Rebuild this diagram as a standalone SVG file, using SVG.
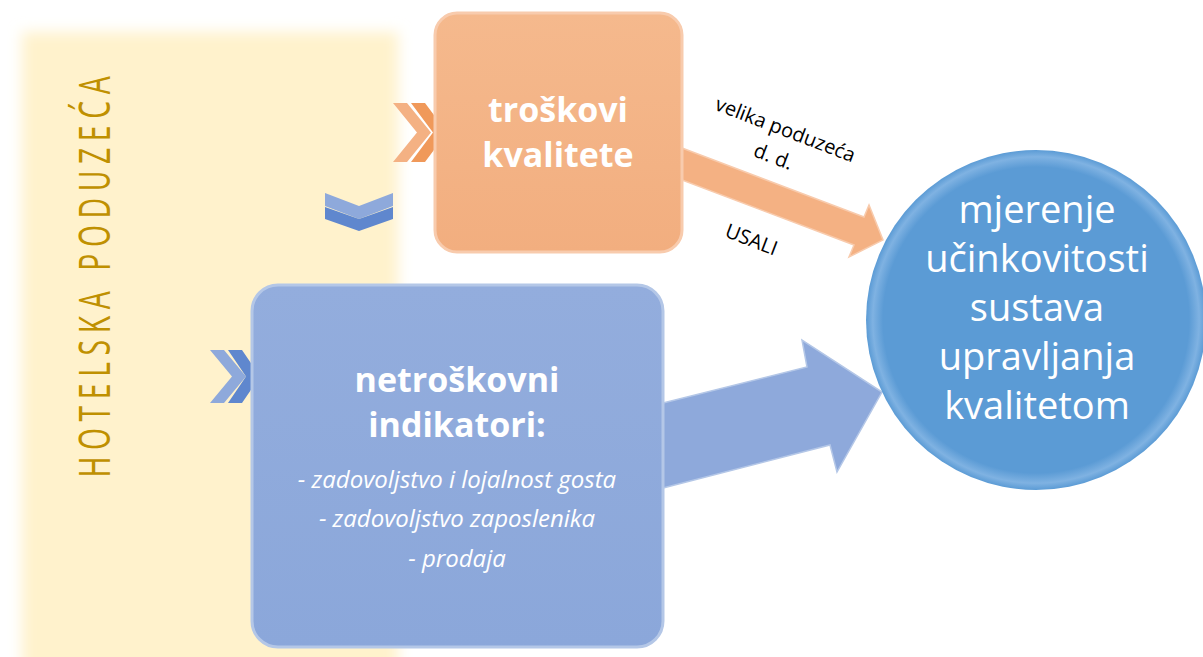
<svg xmlns="http://www.w3.org/2000/svg" width="1203" height="657" viewBox="0 0 1203 657">
<defs>
<filter id="blur" x="-10%" y="-10%" width="120%" height="120%"><feGaussianBlur stdDeviation="7"/></filter>
<linearGradient id="gO" x1="0" y1="0" x2="0" y2="1"><stop offset="0" stop-color="#F5B98D"/><stop offset="1" stop-color="#F2AE7F"/></linearGradient>
<linearGradient id="gB" x1="0" y1="0" x2="0" y2="1"><stop offset="0" stop-color="#93ADDD"/><stop offset="1" stop-color="#8BA7DA"/></linearGradient>
<radialGradient id="gC" cx="0.5" cy="0.5" r="0.5"><stop offset="0.9" stop-color="#5B9BD5"/><stop offset="0.96" stop-color="#7FB2E2"/><stop offset="1" stop-color="#5B9BD5"/></radialGradient>
<style>
.bold{font-family:"Open Sans","Noto Sans",sans-serif;font-weight:700;fill:#fff;text-anchor:middle}
.reg{font-family:"Open Sans","Noto Sans",sans-serif;fill:#fff;text-anchor:middle}
.ital{font-family:"Open Sans","Noto Sans",sans-serif;font-style:italic;fill:#fff;text-anchor:middle;font-size:24px}
.lbl{font-family:"Open Sans","Noto Sans",sans-serif;fill:#000;text-anchor:middle;font-size:20px}
.chL{fill:#8EA9DB}.chD{fill:#5F87CE}
.chLo{fill:#F4B183}.chDo{fill:#F0995A}
</style>
</defs>
<rect width="1203" height="657" fill="#fff"/>
<g id="background">
<rect x="22" y="32" width="376" height="660" fill="#FFF2CC" filter="url(#blur)"/>
<text transform="translate(110,277) rotate(-90) scale(0.66,1)" x="5" y="0" text-anchor="middle" font-family="Open Sans, Noto Sans, sans-serif" font-weight="400" font-size="43" letter-spacing="10" fill="#BF9000">HOTELSKA PODUZEĆA</text>
</g>
<g id="connectors">
<polygon points="682,148 864,217 869,205 883,240 849,257 854,245 682,180" fill="#F4B183" stroke="#F8CBAD" stroke-width="1.5"/>
<polygon points="663,403 807,367 802,340 882,392 837,472 830,445 663,488" fill="#8EA9DB" stroke="#B4C7E7" stroke-width="1.5"/>
<text class="lbl" transform="translate(783,136) rotate(21)">velika poduzeća</text>
<text class="lbl" transform="translate(771,163) rotate(21)">d. d.</text>
<text class="lbl" transform="translate(749,246) rotate(21)">USALI</text>
<polygon class="chLo" points="393,103 407,103 431,132.5 407,162 393,162 417,132.5"/>
<polygon class="chDo" points="411,103 425,103 447,132.5 425,162 411,162 433,132.5"/>
<polygon class="chL" points="210,350 224,350 246,376.5 224,403 210,403 232,376.5"/>
<polygon class="chD" points="228,350 242,350 260,376.5 242,403 228,403 246,376.5"/>
<polygon class="chL" points="325,193 359,206 393,193 393,206 359,219 325,206"/>
<polygon class="chD" points="325,207 359,219 393,207 393,219 359,231 325,219"/>
</g>
<g id="node-troskovi">
<rect x="435" y="13" width="247" height="239" rx="22" fill="url(#gO)" stroke="#F8CBAD" stroke-width="3"/>
<text class="bold" x="558" y="122" font-size="34">troškovi</text>
<text class="bold" x="558" y="167" font-size="34">kvalitete</text>
</g>
<g id="node-netroskovni">
<rect x="252" y="285" width="411" height="362" rx="26" fill="url(#gB)" stroke="#B4C7E7" stroke-width="3"/>
<text class="bold" x="457" y="392" font-size="34">netroškovni</text>
<text class="bold" x="457" y="437" font-size="34">indikatori:</text>
<text class="ital" x="457" y="488">- zadovoljstvo i lojalnost gosta</text>
<text class="ital" x="457" y="527">- zadovoljstvo zaposlenika</text>
<text class="ital" x="457" y="567">- prodaja</text>
</g>
<g id="node-mjerenje">
<circle cx="1036" cy="320" r="170" fill="url(#gC)"/>
<text class="reg" x="1037" y="223" font-size="38">mjerenje</text>
<text class="reg" x="1037" y="272" font-size="38">učinkovitosti</text>
<text class="reg" x="1037" y="321" font-size="38">sustava</text>
<text class="reg" x="1037" y="370" font-size="38">upravljanja</text>
<text class="reg" x="1037" y="419" font-size="38">kvalitetom</text>
</g>
</svg>
